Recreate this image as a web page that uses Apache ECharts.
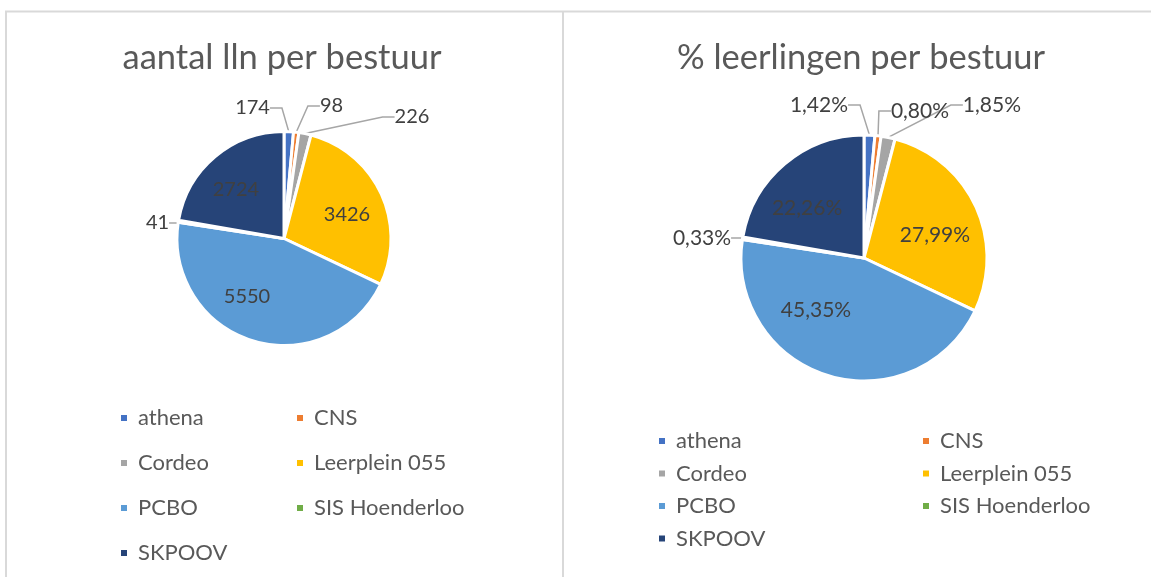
<!DOCTYPE html>
<html>
<head>
<meta charset="utf-8">
<script src="https://cdn.jsdelivr.net/npm/echarts@6/dist/echarts.min.js"></script>
<style>
html,body{margin:0;padding:0;background:#fff;}
#main{width:1151px;height:577px;}
</style>
</head>
<body>
<div id="main"></div>
<script>
// ---- data ----
const categories = ['athena', 'CNS', 'Cordeo', 'Leerplein 055', 'PCBO', 'SIS Hoenderloo', 'SKPOOV'];
const leerlingen = [174, 98, 226, 3426, 5550, 41, 2724];
const percentages = [1.42, 0.80, 1.85, 27.99, 45.35, 0.33, 22.26];
const titles = ['aantal lln per bestuur', '% leerlingen per bestuur'];
const colors = ['#4472C4', '#ED7D31', '#A5A5A5', '#FFC000', '#5B9BD5', '#70AD47', '#264478'];

// ---- layout (positions only) ----
// label centres relative to pie centre, in units of the pie radius
const pieLayouts = [
  { cx: 284, cy: 238.5, r: 107,
    pos: [[-0.294, -1.22], [0.444, -1.238], [1.196, -1.136], [0.589, -0.22], [-0.346, 0.547], [-1.182, -0.145], [-0.449, -0.453]] },
  { cx: 864, cy: 258, r: 123,
    pos: [[-0.366, -1.244], [0.455, -1.195], [1.04, -1.244], [0.577, -0.187], [-0.39, 0.423], [-1.317, -0.163], [-0.463, -0.407]] }
];

const FONT = 'Lato, "Open Sans", sans-serif';
const chart = echarts.init(document.getElementById('main'));

function makeData(values) {
  const total = values.reduce((a, b) => a + b, 0);
  return categories.map((name, i) => ({
    name: name,
    value: values[i],
    label: { position: values[i] / total < 0.05 ? 'outside' : 'inside' }
  }));
}

function pieSeries(idx, values, fmt, fontSize) {
  const L = pieLayouts[idx];
  return {
    type: 'pie',
    center: [L.cx, L.cy],
    radius: L.r,
    startAngle: 90,
    clockwise: true,
    avoidLabelOverlap: false,
    itemStyle: { borderColor: '#fff', borderWidth: 3 },
    label: { color: '#404040', fontFamily: FONT, fontSize: fontSize, formatter: fmt },
    labelLine: { show: true, length: 12, length2: 12, lineStyle: { color: '#A6A6A6', width: 1.5 } },
    labelLayout: function (p) {
      const f = L.pos[p.dataIndex];
      return { x: L.cx + f[0] * L.r, y: L.cy + f[1] * L.r, align: 'center', verticalAlign: 'middle' };
    },
    emphasis: { disabled: true },
    data: makeData(values)
  };
}

const legendText = { color: '#595959', fontFamily: FONT, fontSize: 22, padding: [0, 0, 0, 5] };
const col1 = [categories[0], categories[2], categories[4], categories[6]];
const col2 = [categories[1], categories[3], categories[5]];
function legend(data, left, top, gap) {
  return { data: data, orient: 'vertical', left: left, top: top, padding: 0, itemGap: gap,
    itemWidth: 8, itemHeight: 8, icon: 'rect', textStyle: legendText, selectedMode: false };
}
const titleStyle = { color: '#595959', fontFamily: FONT, fontSize: 34.5, fontWeight: 'normal' };

const option = {
  color: colors,
  animation: false,
  title: [
    { text: titles[0], left: 282, top: 40, textAlign: 'center', padding: 0, textStyle: titleStyle },
    { text: titles[1], left: 861, top: 40, textAlign: 'center', padding: 0, textStyle: titleStyle }
  ],
  legend: [
    legend(col1, 119, 407, 23),
    legend(col2, 295, 407, 23),
    legend(col1, 657, 430, 10.5),
    legend(col2, 921, 430, 10.5)
  ],
  graphic: [
    { type: 'line', shape: { x1: 5, y1: 11.5, x2: 1151, y2: 11.5 }, style: { stroke: '#D9D9D9', lineWidth: 2 }, silent: true },
    { type: 'line', shape: { x1: 6, y1: 11.5, x2: 6, y2: 577 }, style: { stroke: '#D9D9D9', lineWidth: 2 }, silent: true },
    { type: 'line', shape: { x1: 563, y1: 11.5, x2: 563, y2: 577 }, style: { stroke: '#D9D9D9', lineWidth: 2 }, silent: true }
  ],
  series: [
    pieSeries(0, leerlingen, p => String(p.value), 20),
    pieSeries(1, percentages, p => p.value.toFixed(2).replace('.', ',') + '%', 21)
  ]
};
chart.setOption(option);
</script>
</body>
</html>
